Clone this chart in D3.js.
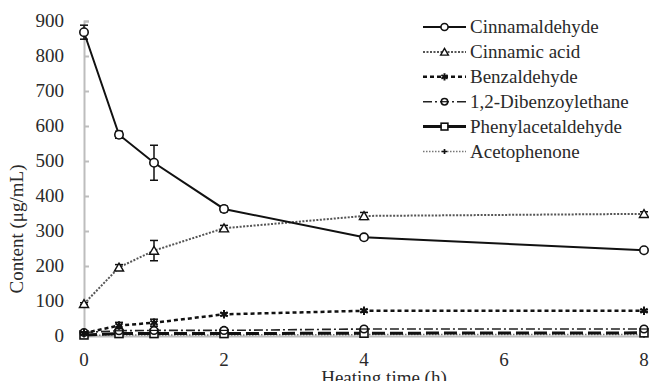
<!DOCTYPE html>
<html><head><meta charset="utf-8">
<script src="https://cdn.jsdelivr.net/npm/d3@7"></script>
<style>body{margin:0;background:#fff}svg{display:block}</style>
</head><body>
<svg id="c" width="649" height="381"></svg>
<script>
const times = [0, 0.5, 1, 2, 4, 8];
const xTicks = [0, 2, 4, 6, 8];
const yTicks = [0, 100, 200, 300, 400, 500, 600, 700, 800, 900];
const seriesNames = ["Cinnamaldehyde","Cinnamic acid","Benzaldehyde","1,2-Dibenzoylethane","Phenylacetaldehyde","Acetophenone"];
const cinnamaldehyde = [868, 575, 495, 363, 282, 245];
const cinnamaldehydeErr = [20, 10, 50, 8, 6, 4];
const cinnamicAcid = [92, 196, 244, 308, 343, 349];
const cinnamicAcidErr = [3, 8, 29, 8, 10, 6];
const benzaldehyde = [8, 30, 38, 62, 72, 72];
const benzaldehydeErr = [4, 9, 10, 4, 4, 3];
const dibenzoylethane = [10, 15, 16, 16, 20, 20];
const dibenzoylethaneErr = [3, 4, 4, 6, 5, 5];
const phenylacetaldehyde = [3, 7, 7, 7, 8, 9];
const phenylacetaldehydeErr = [3, 3, 3, 3, 3, 3];
const acetophenone = [2, 3, 3, 3, 4, 4];
const acetophenoneErr = [1, 1, 1, 1, 1, 1];

const svg = d3.select("#c");
const TXT = "#2a2a2a";
const FONT = '"Liberation Serif"';
const x = d3.scaleLinear().domain([0, 8]).range([84, 644]);
const y = d3.scaleLinear().domain([0, 900]).range([336, 21]);

function txt(g){ return g.append("text").style("font-family", FONT).attr("fill", TXT).attr("font-size", 19); }

// axes
const ya = svg.append("g").attr("transform","translate(84,0)")
  .call(d3.axisRight(y).tickValues(yTicks).tickSize(5).tickFormat(""));
ya.select(".domain").attr("stroke","#bdbdbd").attr("stroke-width",2);
ya.selectAll(".tick line").attr("stroke","#bdbdbd").attr("stroke-width",2);
const yl = svg.append("g");
yTicks.forEach(d => txt(yl).attr("x", 64).attr("y", y(d) + 6).attr("text-anchor","end").text(d));
const xa = svg.append("g").attr("transform","translate(0,336)")
  .call(d3.axisBottom(x).tickValues(xTicks).tickSize(0).tickFormat(""));
xa.select(".domain").attr("stroke","#bdbdbd").attr("stroke-width",2);
const xl = svg.append("g");
xTicks.forEach(d => txt(xl).attr("x", x(d)).attr("y", 366).attr("text-anchor","middle").text(d));
txt(svg).attr("transform","translate(23,229) rotate(-90)").attr("text-anchor","middle").text("Content (μg/mL)");
txt(svg).attr("x",384).attr("y",384).attr("text-anchor","middle").text("Heating time (h)");

const series = [
  {vals: cinnamaldehyde, err: cinnamaldehydeErr, stroke:"#111", w:2, dash:null, marker:"circle"},
  {vals: cinnamicAcid, err: cinnamicAcidErr, stroke:"#555", w:2, dash:"2,1.5", marker:"triangle"},
  {vals: benzaldehyde, err: benzaldehydeErr, stroke:"#111", w:2.5, dash:"4,3", marker:"asterisk"},
  {vals: dibenzoylethane, err: dibenzoylethaneErr, stroke:"#222", w:1.6, dash:"9,3,2,3", marker:"diamond"},
  {vals: phenylacetaldehyde, err: phenylacetaldehydeErr, stroke:"#111", w:3, dash:"13,5", marker:"square"},
  {vals: acetophenone, err: acetophenoneErr, stroke:"#777", w:1.5, dash:"1.5,1.5", marker:"plus"}
];

function drawMarker(g, type, cx, cy, s){
  const c = "#111"; s = s || 1;
  if(type==="circle") g.append("circle").attr("cx",cx).attr("cy",cy).attr("r",4.2*s).attr("fill","#fff").attr("stroke",c).attr("stroke-width",1.6);
  else if(type==="triangle") g.append("path").attr("d",d3.symbol(d3.symbolTriangle,36*s*s)()).attr("transform",`translate(${cx},${cy+1})`).attr("fill","#fff").attr("stroke",c).attr("stroke-width",1.4);
  else if(type==="asterisk") g.append("path").attr("d",d3.symbol(d3.symbolAsterisk,50*s*s)()).attr("transform",`translate(${cx},${cy})`).attr("fill","none").attr("stroke",c).attr("stroke-width",2);
  else if(type==="diamond") { g.append("circle").attr("cx",cx).attr("cy",cy).attr("r",3.8*s).attr("fill","#fff").attr("stroke",c).attr("stroke-width",1.6);
    g.append("line").attr("x1",cx-3.8*s).attr("x2",cx+3.8*s).attr("y1",cy).attr("y2",cy).attr("stroke",c).attr("stroke-width",1.2); }
  else if(type==="square") g.append("rect").attr("x",cx-4*s).attr("y",cy-4*s).attr("width",8*s).attr("height",8*s).attr("fill","#fff").attr("stroke",c).attr("stroke-width",1.6);
  else if(type==="plus") g.append("path").attr("d",d3.symbol(d3.symbolCross,20*s*s)()).attr("transform",`translate(${cx},${cy})`).attr("fill",c);
}

const line = d3.line().x((d,i)=>x(times[i])).y(d=>y(d));
series.slice().reverse().forEach(s => {
  const g = svg.append("g");
  g.append("path").attr("d", line(s.vals)).attr("fill","none").attr("stroke",s.stroke)
    .attr("stroke-width",s.w).attr("stroke-dasharray",s.dash);
  s.vals.forEach((v,i) => {
    const cx = x(times[i]);
    const top = y(v + s.err[i]), bot = y(Math.max(0, v - s.err[i]));
    g.append("line").attr("x1",cx).attr("x2",cx).attr("y1",top).attr("y2",bot).attr("stroke","#111").attr("stroke-width",1.5);
    [top,bot].forEach(yy => g.append("line").attr("x1",cx-4).attr("x2",cx+4).attr("y1",yy).attr("y2",yy).attr("stroke","#111").attr("stroke-width",1.5));
    drawMarker(g, s.marker, cx, y(v));
  });
});

// legend
const lg = svg.append("g");
series.forEach((s,i) => {
  const ly = 27 + i*24.9;
  lg.append("line").attr("x1",423).attr("x2",466).attr("y1",ly).attr("y2",ly)
    .attr("stroke",s.stroke).attr("stroke-width",s.w).attr("stroke-dasharray", i===4 ? null : s.dash);
  drawMarker(lg, s.marker, 444.5, ly, 0.85);
  txt(lg).attr("x",470).attr("y",ly+6).text(seriesNames[i]);
});
</script>
</body></html>
